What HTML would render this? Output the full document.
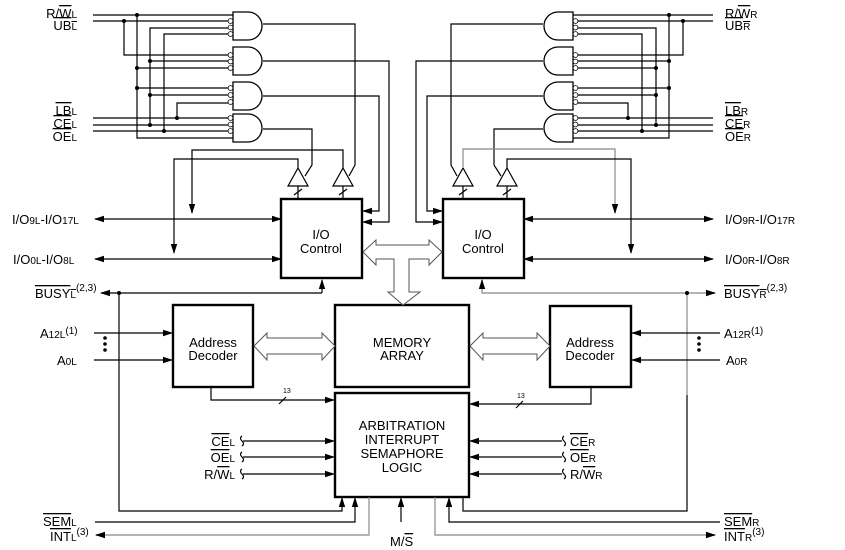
<!DOCTYPE html>
<html><head><meta charset="utf-8"><style>
html,body{margin:0;padding:0;background:#fff}
svg{display:block}
text{font-family:"Liberation Sans",sans-serif;font-size:13px;fill:#000}
.s{font-size:10px}
.o{text-decoration:overline}
</style></head><body>
<svg width="845" height="550" viewBox="0 0 845 550" xmlns="http://www.w3.org/2000/svg">
<defs>
<marker id="a" markerWidth="10" markerHeight="8" refX="9" refY="4" orient="auto" markerUnits="userSpaceOnUse"><path d="M0,0.8 L10,4 L0,7.2 Z" fill="#000"/></marker>
<marker id="b" markerWidth="10" markerHeight="8" refX="1" refY="4" orient="auto" markerUnits="userSpaceOnUse"><path d="M10,0.8 L0,4 L10,7.2 Z" fill="#000"/></marker>
</defs>
<g fill="none" stroke="#000" stroke-width="1.2">
<!-- LEFT inputs -->
<path d="M93,15H233M93,21H228M93,118H228M93,125H228M93,131H228"/>
<path d="M137,15V138H233M137,68H228M137,88H228"/>
<path d="M124,21V55H228"/>
<path d="M228,28H150V125M150,61H228M150,95H228"/>
<path d="M228,34H164V131"/>
<path d="M228,103H177V118"/>
<!-- left gates -->
<path d="M233,12H248A14,14 0 0 1 248,40H233Z M233,47H248A14,14 0 0 1 248,75H233Z M233,82H248A14,14 0 0 1 248,110H233Z M233,114H248A14,14 0 0 1 248,142H233Z" stroke-width="1.3"/>
<!-- left outputs -->
<path d="M263,24H355V165L349,176"/>
<path d="M263,61H389V222H363" marker-end="url(#a)"/>
<path d="M263,96H379V211H363" marker-end="url(#a)"/>
<path d="M263,129H312V165L305,176"/>
<path d="M288,186H308L298,168Z M333,186H353L343,168Z"/>
<path d="M298,186V199M343,186V199M294,195L302,189M339,195L347,189"/>
<path d="M343,168V150H192V213" marker-end="url(#a)"/>
<path d="M298,168V159H174V253" marker-end="url(#a)"/>
<path d="M95,219H281" marker-start="url(#b)" marker-end="url(#a)"/>
<path d="M95,259H281" marker-start="url(#b)" marker-end="url(#a)"/>
<!-- RIGHT inputs -->
<path d="M713,15H573M713,21H578M713,118H578M713,125H578M713,131H578"/>
<path d="M573,138H669V15M669,61H578M669,88H578"/>
<path d="M578,55H683V21"/>
<path d="M578,28H656V125M656,68H578M656,95H578"/>
<path d="M578,34H642V131"/>
<path d="M578,103H628V118"/>
<path d="M573,12H558A14,14 0 0 0 558,40H573Z M573,47H558A14,14 0 0 0 558,75H573Z M573,82H558A14,14 0 0 0 558,110H573Z M573,114H558A14,14 0 0 0 558,142H573Z" stroke-width="1.3"/>
<path d="M543,24H451V165L457,176"/>
<path d="M543,61H416V222H442" marker-end="url(#a)"/>
<path d="M543,96H427V211H442" marker-end="url(#a)"/>
<path d="M543,129H494V165L501,176"/>
<path d="M453,186H473L463,168Z M497,186H517L507,168Z"/>
<path d="M463,186V199M507,186V199M459,195L467,189M503,195L511,189"/>
<path d="M463,168V149H615V213" stroke="#888"/>
<path d="M615,205V213" marker-end="url(#a)"/>
<path d="M507,168V159H631V253" marker-end="url(#a)"/>
<path d="M524,219H713" marker-start="url(#b)" marker-end="url(#a)"/>
<path d="M524,259H713" marker-start="url(#b)" marker-end="url(#a)"/>
<!-- bubbles -->
<g stroke-width="0.8" fill="#fff">
<circle cx="230.5" cy="21" r="2.4"/><circle cx="230.5" cy="27.5" r="2.4"/><circle cx="230.5" cy="34" r="2.4"/>
<circle cx="230.5" cy="55" r="2.4"/><circle cx="230.5" cy="61.5" r="2.4"/><circle cx="230.5" cy="68" r="2.4"/>
<circle cx="230.5" cy="88" r="2.4"/><circle cx="230.5" cy="95" r="2.4"/><circle cx="230.5" cy="102" r="2.4"/>
<circle cx="230.5" cy="118" r="2.4"/><circle cx="230.5" cy="124.5" r="2.4"/><circle cx="230.5" cy="131" r="2.4"/>
<circle cx="575.5" cy="21" r="2.4"/><circle cx="575.5" cy="27.5" r="2.4"/><circle cx="575.5" cy="34" r="2.4"/>
<circle cx="575.5" cy="55" r="2.4"/><circle cx="575.5" cy="61.5" r="2.4"/><circle cx="575.5" cy="68" r="2.4"/>
<circle cx="575.5" cy="88" r="2.4"/><circle cx="575.5" cy="95" r="2.4"/><circle cx="575.5" cy="102" r="2.4"/>
<circle cx="575.5" cy="118" r="2.4"/><circle cx="575.5" cy="124.5" r="2.4"/><circle cx="575.5" cy="131" r="2.4"/>
</g>
<!-- boxes -->
<g stroke-width="2.4">
<rect x="281" y="199" width="81" height="79"/>
<rect x="443" y="199" width="81" height="79"/>
<rect x="173" y="305" width="80" height="82"/>
<rect x="335" y="305" width="134" height="82"/>
<rect x="550" y="306" width="81" height="81"/>
<rect x="335" y="393" width="134" height="104"/>
</g>
<!-- hollow arrows -->
<path d="M363,252L376,240V245H429V240L442,252L429,265V259H409V292H420L403,305L388,292H394V259H376V265Z" fill="#fff" stroke="#555" stroke-width="1"/>
<path d="M254,346L267,333V338H322V333L335,346L322,360V354H267V360Z" fill="#fff" stroke="#555" stroke-width="1"/>
<path d="M470,346L483,333V338H537V333L550,346L537,360V354H483V360Z" fill="#fff" stroke="#555" stroke-width="1"/>
<!-- bottom wiring -->
<path d="M322,293V280" marker-end="url(#a)"/>
<path d="M322,293H101" marker-end="url(#a)"/>
<path d="M119,293V511H342V498" marker-end="url(#a)"/>
<path d="M94,333H172" marker-end="url(#a)"/>
<path d="M94,360H172" marker-end="url(#a)"/>
<path d="M211,387V400H334" marker-end="url(#a)"/>
<path d="M279,404L286,397M516,408L523,401"/>
<path d="M591,387V404H470" marker-end="url(#a)"/>
<path d="M243,441H334" marker-end="url(#a)"/>
<path d="M243,457H334" marker-end="url(#a)"/>
<path d="M243,474H334" marker-end="url(#a)"/>
<path d="M562,441H470" marker-end="url(#a)"/>
<path d="M562,457H470" marker-end="url(#a)"/>
<path d="M562,474H470" marker-end="url(#a)"/>
<path d="M242,436q-3,2 0,5q3,3 0,5M242,452q-3,2 0,5q3,3 0,5M242,469q-3,2 0,5q3,3 0,5"/>
<path d="M564,436q-3,2 0,5q3,3 0,5M564,452q-3,2 0,5q3,3 0,5M564,469q-3,2 0,5q3,3 0,5"/>
<path d="M95,522H355V498" marker-end="url(#a)"/>
<path d="M369,497V535H96" stroke="#888"/>
<path d="M104,535H96" marker-end="url(#a)"/>
<path d="M401,522V498" marker-end="url(#a)"/>
<path d="M435,497V535H715" stroke="#888"/>
<path d="M706,535H715" marker-end="url(#a)"/>
<path d="M720,522H449V498" marker-end="url(#a)"/>
<path d="M463,497V511H687V395"/>
<path d="M687,395V293" stroke="#888"/>
<path d="M482,280V293H715" stroke="#888"/>
<path d="M482,288V280" marker-end="url(#a)"/>
<path d="M706,293H715" marker-end="url(#a)"/>
<path d="M720,333H632" marker-end="url(#a)"/>
<path d="M720,360H632" marker-end="url(#a)"/>
</g>
<!-- dots -->
<g fill="#000">
<circle cx="137" cy="15" r="2"/><circle cx="124" cy="21" r="2"/><circle cx="137" cy="68" r="2"/><circle cx="137" cy="88" r="2"/>
<circle cx="150" cy="61" r="2"/><circle cx="150" cy="95" r="2"/><circle cx="150" cy="125" r="2"/><circle cx="164" cy="131" r="2"/><circle cx="177" cy="118" r="2"/>
<circle cx="669" cy="15" r="2"/><circle cx="683" cy="21" r="2"/><circle cx="669" cy="61" r="2"/><circle cx="669" cy="88" r="2"/>
<circle cx="656" cy="68" r="2"/><circle cx="656" cy="95" r="2"/><circle cx="656" cy="125" r="2"/><circle cx="642" cy="131" r="2"/><circle cx="628" cy="118" r="2"/>
<circle cx="119" cy="293" r="2"/><circle cx="687" cy="293" r="2"/>
<circle cx="105" cy="338" r="1.8"/><circle cx="105" cy="344" r="1.8"/><circle cx="105" cy="350" r="1.8"/>
<circle cx="699" cy="338" r="1.8"/><circle cx="699" cy="344" r="1.8"/><circle cx="699" cy="350" r="1.8"/>
</g>
<!-- labels -->
<text x="77" y="18" text-anchor="end">R/<tspan class="o">W</tspan><tspan class="s">L</tspan></text>
<text x="77" y="30" text-anchor="end"><tspan class="o">UB<tspan class="s">L</tspan></tspan></text>
<text x="77" y="115" text-anchor="end"><tspan class="o">LB</tspan><tspan class="s">L</tspan></text>
<text x="77" y="128" text-anchor="end"><tspan class="o">CE</tspan><tspan class="s">L</tspan></text>
<text x="77" y="141" text-anchor="end"><tspan class="o">OE</tspan><tspan class="s">L</tspan></text>
<text x="725" y="18">R/<tspan class="o">W</tspan><tspan class="s">R</tspan></text>
<text x="725" y="30"><tspan class="o">UB<tspan class="s">R</tspan></tspan></text>
<text x="725" y="115"><tspan class="o">LB</tspan><tspan class="s">R</tspan></text>
<text x="725" y="128"><tspan class="o">CE</tspan><tspan class="s">R</tspan></text>
<text x="725" y="141"><tspan class="o">OE</tspan><tspan class="s">R</tspan></text>
<text x="12" y="224">I/O<tspan class="s">9L</tspan>-I/O<tspan class="s">17L</tspan></text>
<text x="13" y="264">I/O<tspan class="s">0L</tspan>-I/O<tspan class="s">8L</tspan></text>
<text x="725" y="224">I/O<tspan class="s">9R</tspan>-I/O<tspan class="s">17R</tspan></text>
<text x="725" y="264">I/O<tspan class="s">0R</tspan>-I/O<tspan class="s">8R</tspan></text>
<text x="35" y="298"><tspan class="o">BUSY<tspan class="s">L</tspan></tspan><tspan class="s" dy="-7">(2,3)</tspan></text>
<text x="724" y="298"><tspan class="o">BUSY<tspan class="s">R</tspan></tspan><tspan class="s" dy="-7">(2,3)</tspan></text>
<text x="40" y="338">A<tspan class="s">12L</tspan><tspan class="s" dy="-4">(1)</tspan></text>
<text x="57" y="365">A<tspan class="s">0L</tspan></text>
<text x="724" y="338">A<tspan class="s">12R</tspan><tspan class="s" dy="-4">(1)</tspan></text>
<text x="726" y="365">A<tspan class="s">0R</tspan></text>
<text x="321" y="239" text-anchor="middle">I/O</text><text x="321" y="253" text-anchor="middle">Control</text>
<text x="483" y="239" text-anchor="middle">I/O</text><text x="483" y="253" text-anchor="middle">Control</text>
<text x="213" y="347" text-anchor="middle">Address</text><text x="213" y="360" text-anchor="middle">Decoder</text>
<text x="590" y="347" text-anchor="middle">Address</text><text x="590" y="360" text-anchor="middle">Decoder</text>
<text x="402" y="347" text-anchor="middle">MEMORY</text><text x="402" y="360" text-anchor="middle">ARRAY</text>
<text x="402" y="430" text-anchor="middle">ARBITRATION</text>
<text x="402" y="444" text-anchor="middle">INTERRUPT</text>
<text x="402" y="458" text-anchor="middle">SEMAPHORE</text>
<text x="402" y="472" text-anchor="middle">LOGIC</text>
<text x="283" y="393" font-size="7" style="font-size:7px">13</text>
<text x="517" y="398" style="font-size:7px">13</text>
<text x="235" y="446" text-anchor="end"><tspan class="o">CE</tspan><tspan class="s">L</tspan></text>
<text x="235" y="462" text-anchor="end"><tspan class="o">OE</tspan><tspan class="s">L</tspan></text>
<text x="235" y="479" text-anchor="end">R/<tspan class="o">W</tspan><tspan class="s">L</tspan></text>
<text x="570" y="446"><tspan class="o">CE</tspan><tspan class="s">R</tspan></text>
<text x="570" y="462"><tspan class="o">OE</tspan><tspan class="s">R</tspan></text>
<text x="570" y="479">R/<tspan class="o">W</tspan><tspan class="s">R</tspan></text>
<text x="43" y="526"><tspan class="o">SEM</tspan><tspan class="s">L</tspan></text>
<text x="50" y="541"><tspan class="o">INT</tspan><tspan class="s">L</tspan><tspan class="s" dy="-6">(3)</tspan></text>
<text x="724" y="526"><tspan class="o">SEM</tspan><tspan class="s">R</tspan></text>
<text x="724" y="541"><tspan class="o">INT</tspan><tspan class="s">R</tspan><tspan class="s" dy="-6">(3)</tspan></text>
<text x="390" y="546">M/<tspan class="o">S</tspan></text>
</svg>
</body></html>
